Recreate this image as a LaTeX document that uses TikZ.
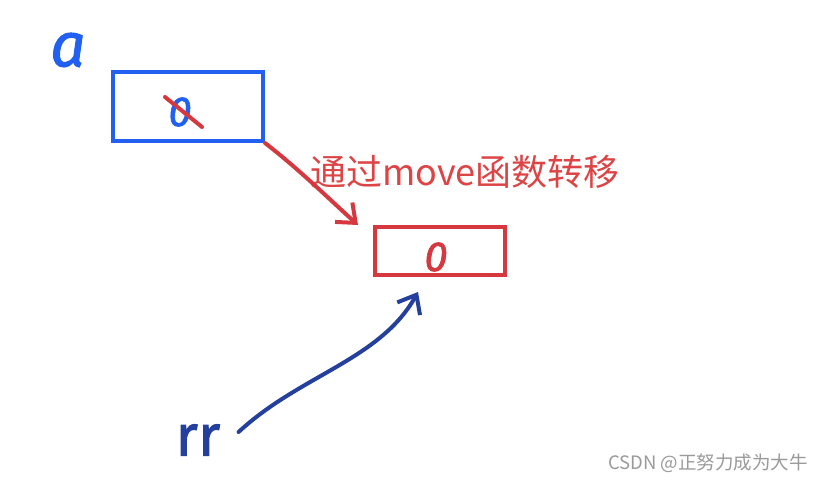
\documentclass[tikz,border=0pt]{standalone}
\usepackage{fontspec}
\setmainfont{Noto Sans CJK SC}
\newfontfamily\handfont[FakeBold=1.5]{Fira Sans}
\usetikzlibrary{arrows.meta,positioning}
\definecolor{penblue}{HTML}{2160F0}
\definecolor{pennavy}{HTML}{243F9C}
\definecolor{penred}{HTML}{D5393F}
\definecolor{inkred}{HTML}{DC4446}
\definecolor{markgray}{HTML}{9A9A9A}
\tikzset{
    memblock/.style={draw,line width=4pt,minimum height=#1,inner sep=0pt},
    hand/.style={font=\handfont\fontsize{#1}{#1}\selectfont,inner sep=0pt},
    stroke/.style={line width=4pt,line cap=round},
    barb/.style={-{Straight Barb[length=16pt,width=26pt,line width=4pt]}}
}

\begin{document}
\begin{tikzpicture}[x=1pt,y=-1pt]
    \useasboundingbox[fill=white] (0,0) rectangle (825,481);

    \node[hand=62,text=penblue] (lbla) at (68,50) {\itshape a};
    \node[memblock=69pt,draw=penblue,minimum width=150pt] (boxa) at (188,106.5) {};
    \node[hand=42,text=penblue] (vala) at (180,112) {\itshape 0};
    \draw[stroke,penred] (165,97) -- (202,127);

    \node[memblock=48pt,draw=penred,minimum width=130pt] (boxb) at (440,251) {};
    \node[hand=42,text=penred] (valb) at (436,257) {\itshape 0};

    \node[text=inkred,font=\fontsize{36}{36}\selectfont,anchor=west,inner sep=0pt] (note) at (310,172) {通过move函数转移};

    \node[hand=58,text=pennavy] (lblrr) at (198,440) {rr};

    \coordinate (tipb) at ([xshift=-15pt]boxb.north west);
    \coordinate (tipc) at ([xshift=-22pt,yshift=-15pt]boxb.south);
    \draw[stroke,penred,barb] (boxa.south east) .. controls (300,170) and (330,200) .. (tipb);
    \draw[stroke,pennavy,barb] ([xshift=18pt,yshift=8pt]lblrr.east) .. controls (300,375) and (380,360) .. (tipc);

    \node[text=markgray,font=\fontsize{18.5}{18.5}\selectfont,anchor=east,inner sep=0pt] (mark) at (808,463) {CSDN @正努力成为大牛};
\end{tikzpicture}
\end{document}
